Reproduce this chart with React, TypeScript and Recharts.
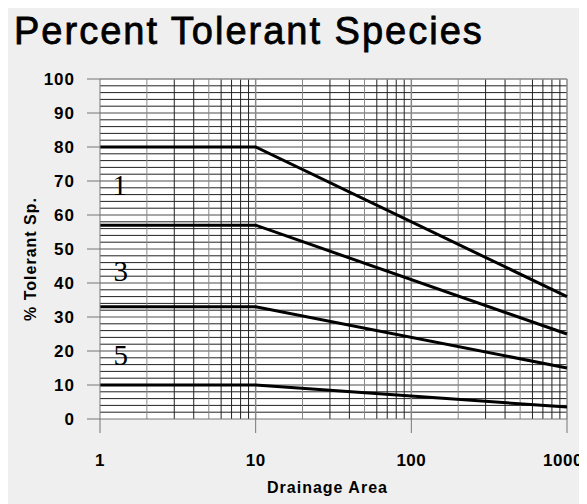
import * as React from 'react';
import { LineChart, Line, CartesianGrid, XAxis, YAxis, ReferenceLine, ReferenceDot } from 'recharts';

const areas = [1, 10, 1000];
const curve1 = [80, 80, 36];
const curve2 = [57, 57, 25];
const curve3 = [33, 33, 15];
const curve4 = [10, 10, 3.5];
const xTicks = [1, 10, 100, 1000];
const yTicks = [0, 10, 20, 30, 40, 50, 60, 70, 80, 90, 100];
const curveLabels = ['1', '3', '5'];
const labelAreas = [1.34, 1.36, 1.36];
const labelPcts = [69, 43.5, 19];

const data = areas.map((a, i) => ({ area: a, c1: curve1[i], c2: curve2[i], c3: curve3[i], c4: curve4[i] }));

// grid lines on log paper
const vGrid: number[] = [];
[1, 10, 100].forEach((d) => {
  for (let k = 2; k <= 9; k++) vGrid.push(k * d);
});
const hGrid: number[] = [];
for (let v = 2; v < 100; v += 2) hGrid.push(v);

const font = '"Liberation Sans", Arial, sans-serif';

function XTick(props: any) {
  const { x, y, payload, index } = props;
  // last label sits a bit inside the frame, like the original
  const dx = index === xTicks.length - 1 ? -4 : 0;
  return (
    <text x={x + dx} y={y} textAnchor="middle" dominantBaseline="central" fontFamily={font} fontWeight="bold" fontSize={17} letterSpacing={0.5} fill="#000">
      {payload.value}
    </text>
  );
}

function YLabel(props: any) {
  const vb = props.viewBox;
  const cx = vb.x + 22;
  const cy = vb.y + vb.height / 2 + 10;
  return (
    <text x={cx} y={cy} transform={`rotate(-90 ${cx} ${cy})`} textAnchor="middle" dominantBaseline="central" fontFamily={font} fontWeight="bold" fontSize={16} letterSpacing={1} fill="#000">
      % Tolerant Sp.
    </text>
  );
}

function XLabel(props: any) {
  const vb = props.viewBox;
  return (
    <text x={vb.x + vb.width / 2 - 6} y={vb.y + 68} textAnchor="middle" dominantBaseline="central" fontFamily={font} fontWeight="bold" fontSize={16} letterSpacing={1} fill="#000">
      Drainage Area
    </text>
  );
}

export default function App() {
  return (
    <div style={{ position: 'relative', width: 579, height: 496, background: '#efefef' }}>
      <div
        style={{
          position: 'absolute',
          left: 6,
          top: 4,
          fontFamily: font,
          fontSize: 38,
          lineHeight: '38px',
          letterSpacing: 2,
          color: '#000',
          WebkitTextStroke: '0.8px #000',
        }}
      >
        Percent Tolerant Species
      </div>
      <LineChart width={579} height={496} data={data} margin={{ top: 71, right: 20, left: 0, bottom: 0 }}>
        <CartesianGrid horizontal={false} vertical={false} fill="#fff" />
        <XAxis
          dataKey="area"
          type="number"
          scale="log"
          domain={[1, 1000]}
          ticks={xTicks}
          height={85}
          tickSize={14}
          tickMargin={27}
          tick={<XTick />}
          stroke="#777"
          tickLine={{ stroke: '#777' }}
          label={<XLabel />}
        />
        <YAxis
          type="number"
          domain={[0, 100]}
          ticks={yTicks}
          width={92}
          tickSize={13}
          tickMargin={12}
          tick={{ fontFamily: font, fontWeight: 'bold', fontSize: 17, fill: '#000', letterSpacing: 1 }}
          stroke="#777"
          tickLine={{ stroke: '#777' }}
          label={<YLabel />}
        />
        {hGrid.map((v) => (
          <ReferenceLine key={'h' + v} y={v} stroke={v % 10 === 0 ? '#888' : '#222'} strokeWidth={v % 10 === 0 ? 1.5 : 1} />
        ))}
        {vGrid.map((v) => (
          <ReferenceLine key={'v' + v} x={v} stroke={[2, 5, 20, 50, 200, 500].includes(v) ? '#888' : '#222'} strokeWidth={1} />
        ))}
        <ReferenceLine x={10} stroke="#888" strokeWidth={1.5} />
        <ReferenceLine x={100} stroke="#888" strokeWidth={1.5} />
        <ReferenceLine x={1000} stroke="#888" strokeWidth={1.5} />
        <ReferenceLine y={100} stroke="#888" strokeWidth={1.5} />
        {curveLabels.map((t, i) => (
          <ReferenceDot
            key={t}
            x={labelAreas[i]}
            y={labelPcts[i]}
            r={0}
            stroke="none"
            label={{ value: t, position: 'center', fontFamily: '"Liberation Serif", "Times New Roman", serif', fontSize: 29, fill: '#000' }}
          />
        ))}
        <Line type="linear" dataKey="c1" stroke="#000" strokeWidth={3} dot={false} isAnimationActive={false} />
        <Line type="linear" dataKey="c2" stroke="#000" strokeWidth={3} dot={false} isAnimationActive={false} />
        <Line type="linear" dataKey="c3" stroke="#000" strokeWidth={3} dot={false} isAnimationActive={false} />
        <Line type="linear" dataKey="c4" stroke="#000" strokeWidth={3} dot={false} isAnimationActive={false} />
      </LineChart>
    </div>
  );
}
